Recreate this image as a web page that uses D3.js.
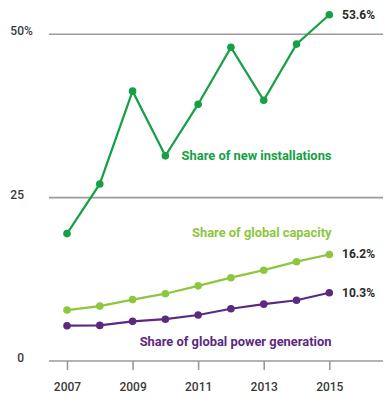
<!DOCTYPE html>
<html>
<head>
<meta charset="utf-8">
<script src="https://cdn.jsdelivr.net/npm/d3@7"></script>
<style>
  body { margin: 0; background: #fff; }
  svg { display: block; font-family: Roboto, "Liberation Sans", sans-serif; }
</style>
</head>
<body>
<div id="app"></div>
<script>
const years = [2007, 2008, 2009, 2010, 2011, 2012, 2013, 2014, 2015]
const newInstallations = [19.5, 27.1, 41.3, 31.4, 39.3, 48.0, 39.9, 48.5, 53.0]
const globalCapacity = [7.8, 8.4, 9.4, 10.3, 11.5, 12.75, 13.9, 15.2, 16.3]
const powerGeneration = [5.4, 5.45, 6.07, 6.4, 7.04, 8.0, 8.7, 9.3, 10.45]
const tickYears = [2007, 2009, 2011, 2013, 2015]
const yTicks = [0, 25, 50]
const endLabels = ["53.6%", "16.2%", "10.3%"]
const seriesNames = ["Share of new installations", "Share of global capacity", "Share of global power generation"]

const width = 391, height = 403

const x = d3.scaleLinear().domain([2007, 2015]).range([67, 329.3])
const y = d3.scaleLinear().domain([0, 50]).range([361, 34.3])

const svg = d3.select('#app').append('svg')
    .attr('width', width)
    .attr('height', height)

// gridlines
svg.append('g')
    .selectAll('line')
    .data(yTicks)
    .join('line')
    .attr('x1', 49).attr('x2', 383)
    .attr('y1', d => y(d)).attr('y2', d => y(d))
    .attr('stroke', '#9a9a9a')
    .attr('stroke-width', 1.6)

// y labels: number right-aligned, % hangs after
const yl = svg.append('g')
    .attr('fill', '#3a3a3a')
    .attr('font-size', 12)
    .attr('font-weight', 500)
yl.selectAll('text.num')
    .data(yTicks)
    .join('text')
    .attr('class', 'num')
    .attr('x', 24)
    .attr('y', d => y(d) + 1)
    .attr('text-anchor', 'end')
    .text(d => d)
yl.append('text')
    .attr('x', 24)
    .attr('y', y(50) + 1)
    .text('%')

// x axis
const xAxis = d3.axisBottom(x)
    .tickValues(tickYears)
    .tickFormat(d3.format('d'))
    .tickSize(9)
    .tickPadding(12)
const gx = svg.append('g')
    .attr('transform', `translate(0,${y(0)})`)
    .call(xAxis)
gx.select('.domain').remove()
gx.selectAll('.tick line').attr('stroke', '#9a9a9a').attr('stroke-width', 1.6)
gx.selectAll('.tick text')
    .attr('fill', '#3a3a3a')
    .attr('font-size', 12)
    .attr('font-weight', 500)
    .attr('font-family', 'Roboto, sans-serif')

const series = [
    {values: newInstallations, color: '#15a045'},
    {values: globalCapacity, color: '#8dc63f'},
    {values: powerGeneration, color: '#5b2a80'},
]

const line = d3.line()
    .x((d, i) => x(years[i]))
    .y(d => y(d))

series.forEach(s => {
    const g = svg.append('g')
    g.append('path')
        .attr('d', line(s.values))
        .attr('fill', 'none')
        .attr('stroke', s.color)
        .attr('stroke-width', 2.2)
    g.selectAll('circle')
        .data(s.values)
        .join('circle')
        .attr('cx', (d, i) => x(years[i]))
        .attr('cy', d => y(d))
        .attr('r', 3.8)
        .attr('fill', s.color)
})

// end value labels
svg.append('g')
    .attr('fill', '#2a2a2a')
    .attr('font-size', 12)
    .attr('font-weight', 700)
    .selectAll('text')
    .data(series)
    .join('text')
    .attr('x', 342)
    .attr('y', d => y(d.values[d.values.length - 1]) + 4)
    .text((d, i) => endLabels[i])

// series names
const nameY = [155.3, 232.3, 341.7]
svg.append('g')
    .attr('font-size', 12.9)
    .attr('font-weight', 700)
    .attr('text-anchor', 'end')
    .selectAll('text')
    .data(series)
    .join('text')
    .attr('x', 331.5)
    .attr('y', (d, i) => nameY[i] + 4.5)
    .attr('fill', d => d.color)
    .text((d, i) => seriesNames[i])
</script>
</body>
</html>
